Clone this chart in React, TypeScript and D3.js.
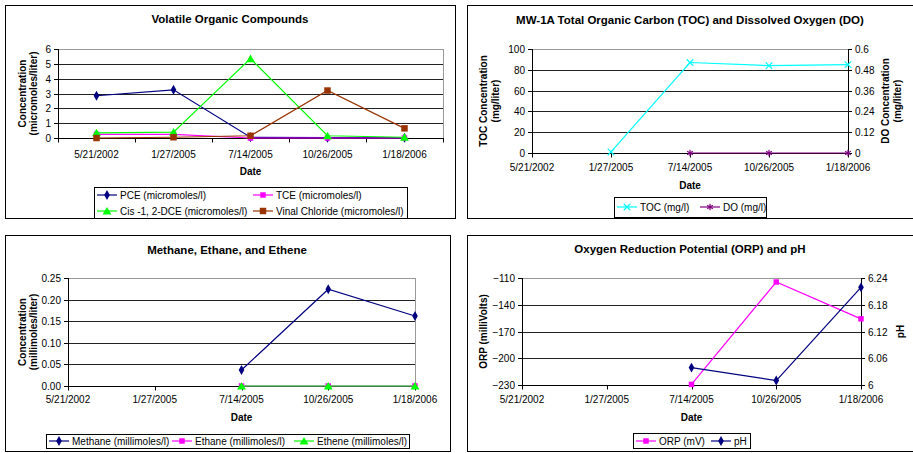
import * as d3 from "d3";
import { useEffect, useRef } from "react";

// sampling dates shared by every chart
const dates = ["5/21/2002", "1/27/2005", "7/14/2005", "10/26/2005", "1/18/2006"];

// Volatile organic compounds (micromoles/l)
const pce = [2.85, 3.25, 0.05, 0.02, 0.02];
const tce = [0.25, 0.25, 0, 0, 0];
const cisDce = [0.35, 0.4, 5.35, 0.15, 0.05];
const vinylChloride = [0, 0.05, 0.15, 3.2, 0.65];

// TOC / DO (mg/l)
const toc = [null, 1, 87, 84, 85];
const dissolvedOxygen = [null, null, 0, 0, 0];

// dissolved gases (millimoles/l)
const methane = [null, null, 0.037, 0.224, 0.162];
const ethane = [null, null, 0, 0, 0];
const ethene = [null, null, 0, 0, 0];

// ORP (mV) and pH
const orp = [null, null, -229.3, -114.5, -155.8];
const ph = [null, null, 6.039, 6.01, 6.219];

// tick labels
const vocTicks = [0, 1, 2, 3, 4, 5, 6];
const tocTicks = [0, 20, 40, 60, 80, 100];
const doTicks = [0, 0.12, 0.24, 0.36, 0.48, 0.6];
const gasTicks = [0, 0.05, 0.1, 0.15, 0.2, 0.25];
const orpTicks = [-230, -200, -170, -140, -110];
const phTicks = [6, 6.06, 6.12, 6.18, 6.24];

const FONT = "'Liberation Sans', Arial, sans-serif";
const NAVY = "#000080";
const MAGENTA = "#ff00ff";
const GREEN = "#00ff00";
const BROWN = "#993300";
const CYAN = "#00ffff";
const PURPLE = "#800080";

const trim = (v: number) => String(+v.toFixed(2));

const panels = [
  {
    title: "Volatile Organic Compounds", titleX: 230, titleY: 19,
    frame: [5, 5, 455, 218],
    plot: { left: 58, top: 49, right: 443, bottom: 138 },
    band: true,
    left: { domain: [0, 6], ticks: vocTicks, fmt: d3.format("d"), label: ["Concentration", "(micromoles/liter)"], labelX: [22, 33] },
    right: null,
    xLabelY: 154, dateY: 171,
    series: [
      { name: "PCE (micromoles/l)", values: pce, color: NAVY, marker: "diamond" },
      { name: "TCE (micromoles/l)", values: tce, color: MAGENTA, marker: "square" },
      { name: "Cis -1, 2-DCE (micromoles/l)", values: cisDce, color: GREEN, marker: "triangle" },
      { name: "Vinal Chloride (micromoles/l)", values: vinylChloride, color: BROWN, marker: "bigsquare" },
    ],
    legend: { box: [94, 187, 407, 218], pos: [[97, 195], [253, 195], [97, 211], [253, 211]] },
  },
  {
    title: "MW-1A Total Organic Carbon (TOC) and Dissolved Oxygen (DO)", titleX: 690, titleY: 20,
    frame: [467, 5, 913, 218],
    plot: { left: 532, top: 49, right: 848, bottom: 153 },
    band: false,
    left: { domain: [0, 100], ticks: tocTicks, fmt: d3.format("d"), label: ["TOC Concentration", "(mg/liter)"], labelX: [483, 495] },
    right: { domain: [0, 0.6], ticks: doTicks, fmt: trim, label: ["DO Concentration", "(mg/liter)"], labelX: [885, 897] },
    xLabelY: 167, dateY: 185,
    series: [
      { name: "TOC (mg/l)", values: toc, color: CYAN, marker: "x" },
      { name: "DO (mg/l)", values: dissolvedOxygen, color: PURPLE, marker: "star", axis: "right" },
    ],
    legend: { box: [614, 197, 766, 217], pos: [[617, 207], [700, 207]] },
  },
  {
    title: "Methane, Ethane, and Ethene", titleX: 227, titleY: 250,
    frame: [5, 235, 450, 451],
    plot: { left: 68, top: 278, right: 415, bottom: 386 },
    band: false,
    left: { domain: [0, 0.25], ticks: gasTicks, fmt: d3.format(".2f"), label: ["Concentration", "(millimoles/liter)"], labelX: [22, 33] },
    right: null,
    xLabelY: 399, dateY: 417,
    series: [
      { name: "Methane (millimoles/l)", values: methane, color: NAVY, marker: "diamond" },
      { name: "Ethane (millimoles/l)", values: ethane, color: MAGENTA, marker: "square" },
      { name: "Ethene (millimoles/l)", values: ethene, color: GREEN, marker: "triangle" },
    ],
    legend: { box: [46, 434, 409, 448], pos: [[49, 441], [172, 441], [294, 441]] },
  },
  {
    title: "Oxygen Reduction Potential (ORP) and pH", titleX: 690, titleY: 249,
    frame: [467, 235, 913, 451],
    plot: { left: 522, top: 278, right: 861, bottom: 385 },
    band: false,
    left: { domain: [-230, -110], ticks: orpTicks, fmt: d3.format("d"), label: ["ORP (milliVolts)"], labelX: [483] },
    right: { domain: [6, 6.24], ticks: phTicks, fmt: trim, label: ["pH"], labelX: [900] },
    xLabelY: 399, dateY: 417,
    series: [
      { name: "ORP (mV)", values: orp, color: MAGENTA, marker: "square" },
      { name: "pH", values: ph, color: NAVY, marker: "diamond", axis: "right" },
    ],
    legend: { box: [633, 433, 750, 448], pos: [[636, 441], [711, 441]] },
  },
];

function drawMarker(g: any, kind: string, x: number, y: number, color: string) {
  if (kind === "x" || kind === "star") {
    const t = kind === "x" ? d3.symbolTimes : d3.symbolAsterisk;
    g.append("path").attr("d", d3.symbol(t, 30)()).attr("transform", `translate(${x},${y})`)
      .attr("fill", "none").attr("stroke", color).attr("stroke-width", 1.2);
    return;
  }
  const t = kind === "diamond" ? d3.symbolDiamond : kind === "triangle" ? d3.symbolTriangle : d3.symbolSquare;
  const size = kind === "diamond" ? 28 : kind === "triangle" ? 34 : kind === "bigsquare" ? 42 : 30;
  g.append("path").attr("d", d3.symbol(t, size)()).attr("transform", `translate(${x},${y + (kind === "triangle" ? 1 : 0)})`)
    .attr("fill", color);
}

function drawPanel(root: any, p: any) {
  const g = root.append("g");
  const [fx0, fy0, fx1, fy1] = p.frame;
  g.append("rect").attr("x", fx0 + 0.5).attr("y", fy0 + 0.5).attr("width", fx1 - fx0).attr("height", fy1 - fy0)
    .attr("fill", "white").attr("stroke", "black");

  g.append("text").attr("x", p.titleX).attr("y", p.titleY).attr("dy", "0.35em").attr("text-anchor", "middle")
    .attr("font-weight", "bold").attr("font-size", 11.5).text(p.title);

  const { left, top, right, bottom } = p.plot;
  const x: any = p.band
    ? d3.scaleBand().domain(dates).range([left, right]).padding(0)
    : d3.scalePoint().domain(dates).range([left, right]).padding(0);
  const cx = (d: string) => (p.band ? x(d) + x.bandwidth() / 2 : x(d));
  const yl = d3.scaleLinear().domain(p.left.domain).range([bottom, top]);
  const yr = p.right ? d3.scaleLinear().domain(p.right.domain).range([bottom, top]) : yl;

  // plot area border + gridlines
  g.append("rect").attr("x", left + 0.5).attr("y", top + 0.5).attr("width", right - left).attr("height", bottom - top)
    .attr("fill", "white").attr("stroke", "#999");
  p.left.ticks.slice(1, -1).forEach((t: number) => {
    const yy = Math.round(yl(t)) + 0.5;
    g.append("line").attr("x1", left).attr("x2", right).attr("y1", yy).attr("y2", yy).attr("stroke", "#222");
  });

  // left axis
  g.append("line").attr("x1", left + 0.5).attr("x2", left + 0.5).attr("y1", top).attr("y2", bottom).attr("stroke", "black");
  p.left.ticks.forEach((t: number) => {
    const yy = Math.round(yl(t)) + 0.5;
    g.append("line").attr("x1", left - 4).attr("x2", left).attr("y1", yy).attr("y2", yy).attr("stroke", "black");
    g.append("text").attr("x", left - 7).attr("y", yy).attr("dy", "0.35em").attr("text-anchor", "end")
      .attr("font-size", 10).text(p.left.fmt(t));
  });
  const midY = (top + bottom) / 2;
  p.left.label.forEach((s: string, i: number) => {
    g.append("text").attr("transform", `translate(${p.left.labelX[i]},${midY}) rotate(-90)`).attr("dy", "0.35em")
      .attr("text-anchor", "middle").attr("font-size", 10).attr("font-weight", "bold").text(s);
  });

  // right axis
  if (p.right) {
    g.append("line").attr("x1", right + 0.5).attr("x2", right + 0.5).attr("y1", top).attr("y2", bottom).attr("stroke", "black");
    p.right.ticks.forEach((t: number) => {
      const yy = Math.round(yr(t)) + 0.5;
      g.append("line").attr("x1", right).attr("x2", right + 4).attr("y1", yy).attr("y2", yy).attr("stroke", "black");
      g.append("text").attr("x", right + 7).attr("y", yy).attr("dy", "0.35em").attr("font-size", 10).text(p.right.fmt(t));
    });
    p.right.label.forEach((s: string, i: number) => {
      g.append("text").attr("transform", `translate(${p.right.labelX[i]},${midY}) rotate(-90)`).attr("dy", "0.35em")
        .attr("text-anchor", "middle").attr("font-size", 10).attr("font-weight", "bold").text(s);
    });
  }

  // x axis
  const by = Math.round(yl(p.left.domain[0])) + 0.5;
  g.append("line").attr("x1", left).attr("x2", right + 1).attr("y1", by).attr("y2", by).attr("stroke", "black");
  const tickXs = p.band ? [...dates.map((d) => x(d)), right] : dates.map((d) => x(d));
  tickXs.forEach((tx: number) => {
    const xx = Math.round(tx) + 0.5;
    g.append("line").attr("x1", xx).attr("x2", xx).attr("y1", by).attr("y2", by + 4).attr("stroke", "black");
  });
  dates.forEach((d) => {
    g.append("text").attr("x", cx(d)).attr("y", p.xLabelY).attr("dy", "0.35em").attr("text-anchor", "middle")
      .attr("font-size", 10).text(d);
  });
  g.append("text").attr("x", (left + right) / 2).attr("y", p.dateY).attr("dy", "0.35em").attr("text-anchor", "middle")
    .attr("font-size", 10).attr("font-weight", "bold").text("Date");

  // series
  p.series.forEach((s: any) => {
    const ys = s.axis === "right" ? yr : yl;
    const pts = dates.map((d, i) => ({ d, v: s.values[i] })).filter((o) => o.v !== null);
    const line = d3.line<any>().x((o) => cx(o.d)).y((o) => ys(o.v));
    g.append("path").attr("d", line(pts)).attr("fill", "none").attr("stroke", s.color).attr("stroke-width", 1.2);
    pts.forEach((o) => drawMarker(g, s.marker, cx(o.d), ys(o.v as number), s.color));
  });

  // legend
  const [lx0, ly0, lx1, ly1] = p.legend.box;
  g.append("rect").attr("x", lx0 + 0.5).attr("y", ly0 + 0.5).attr("width", lx1 - lx0).attr("height", ly1 - ly0)
    .attr("fill", "white").attr("stroke", "black");
  p.series.forEach((s: any, i: number) => {
    const [ix, iy] = p.legend.pos[i];
    g.append("line").attr("x1", ix).attr("x2", ix + 20).attr("y1", iy).attr("y2", iy).attr("stroke", s.color).attr("stroke-width", 1.2);
    drawMarker(g, s.marker, ix + 10, iy, s.color);
    g.append("text").attr("x", ix + 23).attr("y", iy).attr("dy", "0.35em").attr("font-size", 10).text(s.name);
  });
}

const App = () => {
  const svgRef = useRef<SVGSVGElement>(null);

  useEffect(() => {
    const svg = d3.select(svgRef.current);
    svg.selectAll("*").remove();
    svg.append("rect").attr("width", 913).attr("height", 453).attr("fill", "white");
    panels.forEach((p) => drawPanel(svg, p));
  }, []);

  return (
    <svg
      ref={svgRef}
      width={913}
      height={453}
      style={{ position: "absolute", left: 0, top: 0, fontFamily: FONT }}
    ></svg>
  );
};

export default App;
